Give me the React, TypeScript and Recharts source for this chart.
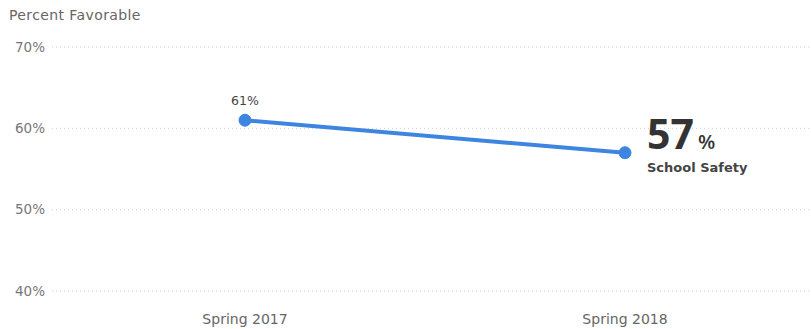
import React from "react";
import { LineChart, Line, XAxis, YAxis, CartesianGrid, LabelList } from "recharts";

const categories = ["Spring 2017", "Spring 2018"];
const favorable = [61, 57];
const yTicks = [40, 50, 60, 70];
const seriesName = "School Safety";
const axisTitle = "Percent Favorable";

const data = categories.map((c, i) => ({ period: c, value: favorable[i] }));

const FONT = "'DejaVu Sans', sans-serif";
const BIG = "'Open Sans', 'Noto Sans', sans-serif";
const BLUE = "#3d85e0";

const PointLabel = (props: any) => {
  const { x, y, value, index } = props;
  if (index === data.length - 1) {
    return (
      <g>
        <text x={x + 22} y={y - 4} fontFamily={BIG} fontSize={41} fontWeight={700} fill="#333">
          {value}
          <tspan fontSize={20} fontWeight={600} dx={4}>%</tspan>
        </text>
        <text x={x + 22} y={y + 19} fontFamily={FONT} fontSize={13} fontWeight={600} fill="#444">
          {seriesName}
        </text>
      </g>
    );
  }
  return (
    <text x={x} y={y - 15} textAnchor="middle" fontFamily={FONT} fontSize={12.5} fill="#444">
      {value}%
    </text>
  );
};

export default function App() {
  return (
    <div style={{ position: "absolute", left: 0, top: 0, width: 811, height: 329, background: "#fff" }}>
      <div style={{ position: "absolute", left: 9, top: 7, fontFamily: FONT, fontSize: 14, letterSpacing: 0.4, color: "#666" }}>
        {axisTitle}
      </div>
      <LineChart width={811} height={329} data={data} margin={{ top: 47, right: 0, bottom: 8, left: 0 }}>
        <CartesianGrid vertical={false} stroke="#cfcfcf" strokeDasharray="1 3" />
        <XAxis
          dataKey="period"
          height={30}
          axisLine={false}
          tickLine={false}
          tickSize={0}
          tickMargin={23}
          padding={{ left: 193, right: 186 }}
          tick={{ fontFamily: FONT, fontSize: 14, fill: "#666" }}
          interval={0}
        />
        <YAxis
          domain={[40, 70]}
          ticks={yTicks}
          width={52}
          axisLine={false}
          tickLine={false}
          tickSize={0}
          tickMargin={7}
          tickFormatter={(v: number) => `${v}%`}
          tick={{ fontFamily: FONT, fontSize: 13.5, fill: "#777" }}
        />
        <Line
          type="linear"
          dataKey="value"
          stroke={BLUE}
          strokeWidth={4}
          dot={{ r: 6, fill: BLUE, stroke: BLUE, strokeWidth: 1 }}
          activeDot={false}
          isAnimationActive={false}
        >
          <LabelList dataKey="value" content={PointLabel} />
        </Line>
      </LineChart>
    </div>
  );
}
